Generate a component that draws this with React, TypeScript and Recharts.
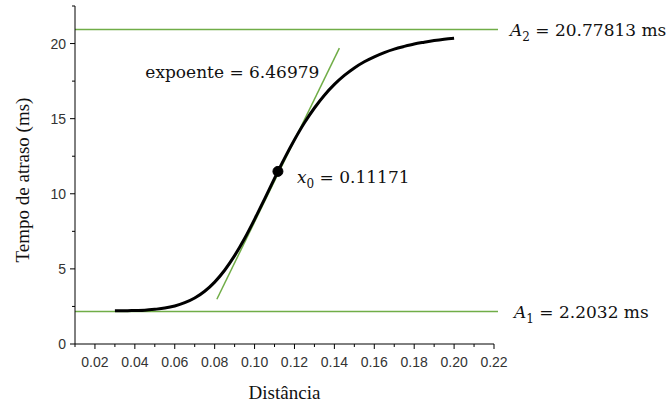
import React from 'react';
import { ComposedChart, Line, XAxis, YAxis, ReferenceLine, ReferenceDot } from 'recharts';

// fitted curve
const distance = [
  0.03, 0.035, 0.04, 0.045, 0.05, 0.055, 0.06, 0.065, 0.07, 0.075, 0.08, 0.085,
  0.09, 0.095, 0.1, 0.105, 0.11, 0.115, 0.12, 0.125, 0.13, 0.135, 0.14, 0.145,
  0.15, 0.155, 0.16, 0.165, 0.17, 0.175, 0.18, 0.185, 0.19, 0.195, 0.2,
];
const delay = [
  2.21, 2.21, 2.23, 2.25, 2.31, 2.39, 2.53, 2.75, 3.06, 3.51, 4.12, 4.91,
  5.88, 7.02, 8.3, 9.65, 11.03, 12.36, 13.6, 14.73, 15.71, 16.56, 17.28, 17.88,
  18.38, 18.79, 19.12, 19.4, 19.63, 19.81, 19.97, 20.09, 20.2, 20.29, 20.36,
];

const xTicks = [
  0.01, 0.02, 0.03, 0.04, 0.05, 0.06, 0.07, 0.08, 0.09, 0.1, 0.11,
  0.12, 0.13, 0.14, 0.15, 0.16, 0.17, 0.18, 0.19, 0.2, 0.21, 0.22,
];
const yTicks = [0, 2.5, 5, 7.5, 10, 12.5, 15, 17.5, 20, 22.5];

const upperLevel = [0.01, 0.222, 20.93];
const lowerLevel = [0.01, 0.222, 2.16];
const tangentX = [0.0811, 0.1425];
const tangentY = [2.98, 19.7];
const centerPoint = [0.11171, 11.49];

const data = distance.map((x, i) => ({ x, y: delay[i] }));

const GREEN = '#70ad47';
const MATH = '"DejaVu Serif", serif';
const TEXT = '"Liberation Serif", "Times New Roman", serif';
const TICK = '"Liberation Sans", Arial, sans-serif';

const XTick = (props: any) => {
  const { x, y, payload } = props;
  const major = Math.round(payload.value * 100) % 2 === 0;
  return (
    <g>
      <line x1={x} x2={x} y1={y} y2={y + (major ? 5 : 3)} stroke="#000" />
      {major && (
        <text x={x} y={y + 23} textAnchor="middle" fontFamily={TICK} fontSize={14} fill="#333">
          {payload.value.toFixed(2)}
        </text>
      )}
    </g>
  );
};

const YTick = (props: any) => {
  const { x, y, payload } = props;
  const major = payload.value % 5 === 0;
  return (
    <g>
      <line x1={x} x2={x - (major ? 5 : 3)} y1={y} y2={y} stroke="#000" />
      {major && (
        <text x={x - 9} y={y + 5} textAnchor="end" fontFamily={TICK} fontSize={14} fill="#333">
          {payload.value}
        </text>
      )}
    </g>
  );
};

export default function App() {
  return (
    <div style={{ position: 'absolute', left: 0, top: 0, background: '#fff' }}>
      <ComposedChart
        width={670}
        height={407}
        data={data}
        margin={{ top: 6, right: 176, left: 0, bottom: 0 }}
      >
        <XAxis
          dataKey="x"
          type="number"
          domain={[0.01, 0.22]}
          ticks={xTicks}
          interval={0}
          height={63}
          tickSize={0}
          tickMargin={0}
          tickLine={false}
          axisLine={{ stroke: '#000' }}
          tick={<XTick />}
          label={{
            content: (p: any) => (
              <text
                x={p.viewBox.x + p.viewBox.width / 2}
                y={p.viewBox.y + 55}
                textAnchor="middle"
                fontFamily={TEXT}
                fontSize={19}
                fill="#111"
              >
                Distância
              </text>
            ),
          }}
        />
        <YAxis
          type="number"
          domain={[0, 22.5]}
          ticks={yTicks}
          interval={0}
          width={75}
          tickSize={0}
          tickMargin={0}
          tickLine={false}
          axisLine={{ stroke: '#000' }}
          tick={<YTick />}
          label={{
            content: (p: any) => {
              const cx = 22;
              const cy = p.viewBox.y + p.viewBox.height / 2 + 5;
              return (
                <text
                  x={cx}
                  y={cy}
                  transform={`rotate(-90 ${cx} ${cy})`}
                  textAnchor="middle"
                  dominantBaseline="central"
                  fontFamily={TEXT}
                  fontSize={19}
                  fill="#111"
                >
                  Tempo de atraso (ms)
                </text>
              );
            },
          }}
        />
        <ReferenceLine
          segment={[
            { x: upperLevel[0], y: upperLevel[2] },
            { x: upperLevel[1], y: upperLevel[2] },
          ]}
          stroke={GREEN}
          strokeWidth={1.5}
          ifOverflow="visible"
          label={{
            content: (p: any) => (
              <text
                x={p.viewBox.x + p.viewBox.width + 12}
                y={p.viewBox.y + 6}
                fontFamily={MATH}
                fontSize={17}
                fill="#111"
              >
                <tspan fontStyle="italic">A</tspan>
                <tspan dy={5} fontSize={12}>2</tspan>
                <tspan dy={-5}> = 20.77813 ms</tspan>
              </text>
            ),
          }}
        />
        <ReferenceLine
          segment={[
            { x: lowerLevel[0], y: lowerLevel[2] },
            { x: lowerLevel[1], y: lowerLevel[2] },
          ]}
          stroke={GREEN}
          strokeWidth={1.5}
          ifOverflow="visible"
          label={{
            content: (p: any) => (
              <text
                x={p.viewBox.x + p.viewBox.width + 16}
                y={p.viewBox.y + 6}
                fontFamily={MATH}
                fontSize={17}
                fill="#111"
              >
                <tspan fontStyle="italic">A</tspan>
                <tspan dy={5} fontSize={12}>1</tspan>
                <tspan dy={-5}> = 2.2032 ms</tspan>
              </text>
            ),
          }}
        />
        <ReferenceLine
          segment={[
            { x: tangentX[0], y: tangentY[0] },
            { x: tangentX[1], y: tangentY[1] },
          ]}
          stroke={GREEN}
          strokeWidth={1.5}
          label={{
            content: (p: any) => (
              <text
                x={p.viewBox.x + p.viewBox.width - 20}
                y={p.viewBox.y + 30}
                textAnchor="end"
                fontFamily={MATH}
                fontSize={17}
                fill="#111"
              >
                expoente = 6.46979
              </text>
            ),
          }}
        />
        <Line
          dataKey="y"
          type="monotone"
          stroke="#000"
          strokeWidth={3}
          dot={false}
          isAnimationActive={false}
        />
        <ReferenceDot
          x={centerPoint[0]}
          y={centerPoint[1]}
          r={5}
          fill="#000"
          stroke="#000"
          label={{
            content: (p: any) => (
              <text
                x={p.viewBox.x + p.viewBox.width + 14}
                y={p.viewBox.y + p.viewBox.height / 2 + 12}
                fontFamily={MATH}
                fontSize={17}
                fill="#111"
              >
                <tspan fontStyle="italic">x</tspan>
                <tspan dy={5} fontSize={12}>0</tspan>
                <tspan dy={-5}> = 0.11171</tspan>
              </text>
            ),
          }}
        />
      </ComposedChart>
    </div>
  );
}
